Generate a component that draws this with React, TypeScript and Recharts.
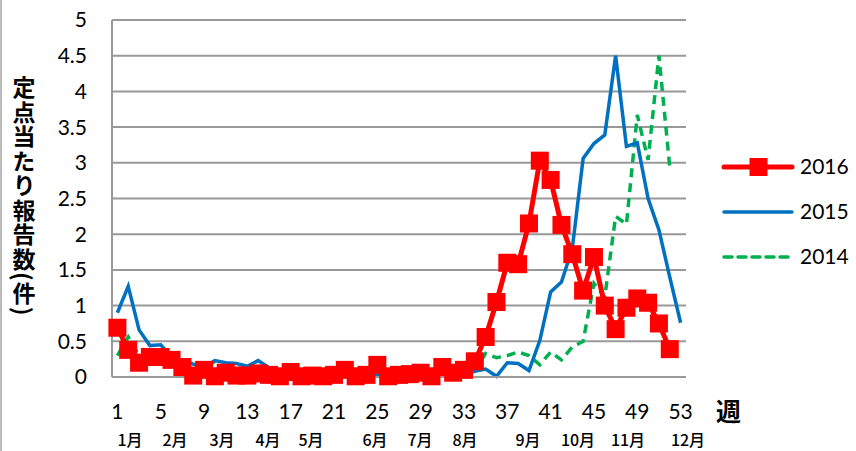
import { LineChart, Line, XAxis, YAxis, CartesianGrid } from 'recharts';

// 週 1..53
const weeks = Array.from({ length: 53 }, (_, i) => String(i + 1));

const y2016 = [
  0.69, 0.38, 0.2, 0.28, 0.28, 0.24, 0.14, 0.02, 0.1, 0.01,
  0.06, 0.02, 0.02, 0.05, 0.03, 0.01, 0.07, 0.01, 0.02, 0.01,
  0.03, 0.1, 0.01, 0.03, 0.17, 0.01, 0.03, 0.04, 0.06, 0.01,
  0.14, 0.06, 0.1, 0.22, 0.56, 1.05, 1.6, 1.58, 2.15, 3.03,
  2.76, 2.13, 1.72, 1.21, 1.68, 1.0, 0.67, 0.97, 1.1, 1.04,
  0.75, 0.39, null,
];

const y2015 = [
  0.9, 1.27, 0.66, 0.44, 0.45, 0.28, 0.23, 0.18, 0.14, 0.23,
  0.2, 0.19, 0.15, 0.23, 0.13, 0.05, 0.07, 0.05, 0.04, 0.05,
  0.04, 0.04, 0.03, 0.04, 0.03, 0.04, 0.03, 0.03, 0.04, 0.03,
  0.03, 0.05, 0.04, 0.08, 0.11, 0.01, 0.2, 0.19, 0.09, 0.51,
  1.19, 1.33, 1.8, 3.06, 3.27, 3.39, 4.5, 3.23, 3.28, 2.5,
  2.06, 1.4, 0.76,
];

const y2014 = [
  0.3, 0.56, 0.3, 0.27, 0.33, 0.17, 0.18, 0.14, 0.11, 0.22,
  0.12, 0.09, 0.04, 0.04, 0.05, 0.1, 0.08, 0.06, 0.05, 0.05,
  0.06, 0.07, 0.05, 0.06, 0.06, 0.05, 0.06, 0.05, 0.05, 0.06,
  0.08, 0.13, 0.08, 0.1, 0.33, 0.27, 0.3, 0.35, 0.3, 0.17,
  0.35, 0.24, 0.42, 0.5, 1.31, 1.12, 2.25, 2.14, 3.67, 3.04,
  4.5, 2.94, null,
];

const yTicks = [0, 0.5, 1, 1.5, 2, 2.5, 3, 3.5, 4, 4.5, 5];

const months = ['1月', '2月', '3月', '4月', '5月', '6月', '7月', '8月', '9月', '10月', '11月', '12月'];
const monthX = [130, 175, 222, 268, 311, 375, 420, 465, 528, 578, 628, 688];

const series = [
  { key: 'y2016', name: '2016', color: '#FF0000' },
  { key: 'y2015', name: '2015', color: '#0070C0' },
  { key: 'y2014', name: '2014', color: '#00B050' },
];

const data = weeks.map((w, i) => ({ week: w, y2016: y2016[i], y2015: y2015[i], y2014: y2014[i] }));

const numFont = 'Lato, "Liberation Sans", sans-serif';
const jpFont = '"Noto Sans CJK JP", sans-serif';

const SquareDot = (props: any) => {
  const { cx, cy, value, index } = props;
  if (value == null || cy == null) return <g key={index} />;
  return <rect key={index} x={cx - 9} y={cy - 9} width={18} height={18} fill="#FF0000" />;
};

export default function App() {
  return (
    <div style={{ position: 'absolute', left: 0, top: 0, width: 856, height: 451, background: '#fff' }}>
      <LineChart width={856} height={451} data={data} margin={{ top: 20, right: 170, bottom: 0, left: 0 }}>
        <CartesianGrid vertical={false} stroke="#999" strokeWidth={2} />
        <XAxis
          dataKey="week"
          interval={3}
          height={74}
          padding={{ left: 5.4, right: 5.4 }}
          tickLine={false}
          tickSize={0}
          tickMargin={27}
          axisLine={{ stroke: '#999', strokeWidth: 2 }}
          tick={{ fill: '#000', fontSize: 21, fontFamily: numFont }}
        />
        <YAxis
          width={112}
          domain={[0, 5]}
          ticks={yTicks}
          interval={0}
          tickLine={false}
          tickSize={0}
          tickMargin={25}
          axisLine={{ stroke: '#999', strokeWidth: 2 }}
          tick={{ fill: '#000', fontSize: 21, fontFamily: numFont }}
        />
        <Line
          dataKey="y2014"
          name="2014"
          stroke="#00B050"
          strokeWidth={3.5}
          strokeDasharray="9 6"
          dot={false}
          isAnimationActive={false}
        />
        <Line dataKey="y2015" name="2015" stroke="#0070C0" strokeWidth={3.5} dot={false} isAnimationActive={false} />
        <Line
          dataKey="y2016"
          name="2016"
          stroke="#FF0000"
          strokeWidth={5}
          dot={<SquareDot />}
          isAnimationActive={false}
        />
      </LineChart>
      <svg width={856} height={451} style={{ position: 'absolute', left: 0, top: 0, pointerEvents: 'none' }}>
        <line x1={1} y1={0} x2={1} y2={451} stroke="#bbb" strokeWidth={2} />
        {series.map((s, i) => {
          const y = 167 + i * 45;
          return (
            <g key={s.key}>
              <line
                x1={724} y1={y} x2={792} y2={y}
                stroke={s.color}
                strokeWidth={s.key === 'y2016' ? 5 : 3.5}
                strokeDasharray={s.key === 'y2014' ? '8 6' : undefined}
                strokeLinecap="round"
              />
              {s.key === 'y2016' && <rect x={749.5} y={y - 9} width={18} height={18} fill={s.color} />}
              <text x={800} y={y} dy="0.35em" fontFamily={numFont} fontSize={21} fill="#000">
                {s.name}
              </text>
            </g>
          );
        })}
        <text x={716} y={412} dy="0.35em" fontFamily={jpFont} fontWeight={700} fontSize={25} fill="#000">
          週
        </text>
        {months.map((m, i) => (
          <text
            key={m}
            x={monthX[i]}
            y={440}
            dy="0.35em"
            textAnchor="middle"
            fontFamily={jpFont}
            fontWeight={500}
            fontSize={16}
            fill="#000"
          >
            {m}
          </text>
        ))}
      </svg>
      <div
        style={{
          position: 'absolute', left: 12, top: 76, writingMode: 'vertical-rl', textOrientation: 'mixed',
          fontFamily: jpFont, fontWeight: 700, fontSize: 23, lineHeight: 1, letterSpacing: 1.5, color: '#000',
        }}
      >
        定点当たり報告数(件)
      </div>
    </div>
  );
}
